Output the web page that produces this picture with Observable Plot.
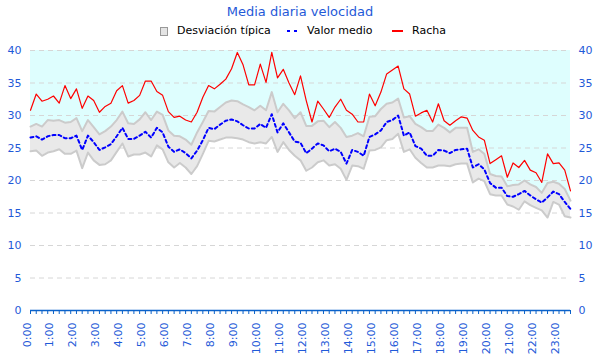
<!DOCTYPE html>
<html><head><meta charset="utf-8">
<script src="https://cdn.jsdelivr.net/npm/d3@7"></script>
<script src="https://cdn.jsdelivr.net/npm/@observablehq/plot@0.6"></script>
<style>
body{margin:0;background:#fff;font-family:"DejaVu Sans",sans-serif;}
#wrap{position:relative;width:600px;height:360px;overflow:hidden;}
#title{position:absolute;top:4px;left:0;width:600px;text-align:center;font-size:13px;color:#1f5ad8;}
.lg{position:absolute;top:24px;font-size:11px;color:#000;line-height:14px;}
.sw{position:absolute;}
#chart{position:absolute;left:0;top:0;}
</style></head>
<body>
<div id="wrap">
  <div id="chart"></div>
  <div id="title">Media diaria velocidad</div>
  <div class="sw" style="left:160px;top:27px;width:6px;height:7px;background:#e4e4e4;border:1px solid #999;"></div>
  <div class="lg" style="left:177px;">Desviación típica</div>
  <div class="sw" style="left:287px;top:30px;width:3px;height:2px;background:#0000ff;"></div>
  <div class="sw" style="left:294px;top:30px;width:3px;height:2px;background:#0000ff;"></div>
  <div class="lg" style="left:307px;">Valor medio</div>
  <div class="sw" style="left:392px;top:30px;width:11px;height:2px;background:#ff0000;"></div>
  <div class="lg" style="left:412px;">Racha</div>
</div>
<script>
// 15-minute samples from 0:00 to 23:30
const racha = [30.8,33.3,32.2,32.5,33.0,31.9,34.6,32.6,34.1,31.1,33.0,32.3,30.5,31.4,31.9,33.8,34.6,31.9,32.3,33.1,35.3,35.3,33.7,33.1,30.6,29.7,29.9,29.3,29.0,30.5,32.8,34.6,34.1,34.8,35.6,37.2,39.7,37.8,34.7,34.7,37.9,35.1,39.7,35.8,37.1,35.0,33.2,36.1,32.3,29.0,32.2,31.0,29.7,31.3,32.5,30.8,30.2,29.0,29.0,33.3,31.5,33.6,36.4,37.0,37.6,34.1,33.3,29.9,30.4,30.8,29.0,31.8,29.2,28.5,29.2,29.8,29.6,27.7,26.7,26.2,22.6,23.2,23.8,20.5,22.7,22.0,23.1,21.6,21.2,19.7,24.1,22.6,22.7,21.6,18.4];
const media = [26.6,26.8,26.3,26.8,27.0,27.0,26.5,26.5,26.9,24.7,26.9,25.9,24.7,25.1,25.6,26.8,28.1,26.4,26.4,26.9,27.5,26.6,28.1,27.4,25.2,24.4,24.8,24.2,23.4,24.6,26.2,28.1,27.9,28.6,29.2,29.4,29.1,28.5,28.0,28.0,28.7,28.1,30.2,27.4,28.8,27.4,26.0,25.8,24.2,24.9,25.7,25.4,24.5,24.9,24.4,22.6,24.7,24.4,23.8,26.7,27.1,27.7,29.0,29.3,30.0,26.9,27.4,25.3,24.9,23.8,23.8,24.7,24.6,24.2,24.7,24.8,24.9,22.0,22.5,21.7,19.6,18.9,18.9,17.6,17.5,17.9,18.4,17.7,17.1,16.6,17.4,18.3,17.9,16.7,15.6];
const superior = [28.3,28.7,28.3,29.3,29.2,29.3,28.9,29.0,29.6,27.6,29.3,28.2,27.1,27.6,28.3,29.3,30.6,28.8,28.7,29.4,30.5,29.3,30.6,30.1,27.7,26.9,26.8,26.3,25.5,27.4,29.0,30.7,30.6,31.3,32.0,32.3,32.2,31.7,31.3,30.8,31.5,30.8,33.6,30.5,31.8,30.8,29.6,30.5,28.4,28.4,29.1,29.2,28.2,29.0,28.1,26.7,26.9,27.3,26.8,29.8,29.9,31.0,31.8,32.0,32.6,29.7,29.9,28.7,28.2,27.6,27.6,28.6,28.1,27.4,28.1,28.1,28.1,24.4,24.8,24.1,21.0,20.7,20.6,19.1,19.3,19.4,20.0,19.4,19.0,18.1,19.6,19.8,19.5,18.7,16.9];
const inferior = [24.5,24.6,23.8,24.3,24.5,24.8,24.1,24.1,24.6,21.9,24.3,23.1,22.4,22.5,23.1,24.4,25.7,23.7,24.0,24.0,24.3,23.7,25.4,24.8,22.8,22.0,22.7,22.0,21.0,22.2,24.1,26.1,26.0,26.3,26.6,26.6,26.5,26.3,25.9,25.7,25.9,25.7,26.7,24.4,25.9,24.7,23.8,23.1,21.5,22.0,22.8,23.1,22.3,22.5,21.8,20.1,22.3,22.2,21.8,24.6,24.7,25.1,26.2,26.4,27.2,24.4,24.8,23.5,22.7,22.0,22.0,22.3,22.3,22.2,22.5,22.6,22.6,19.7,20.3,19.9,17.9,17.7,17.7,16.3,16.0,15.5,16.8,16.2,15.8,15.4,14.3,16.7,16.3,14.5,14.3];
const horas = d3.range(0, 24);                 // hour tick values
const horaLabels = horas.map(h => `${h}:00`);  // hour tick labels
const yTicks = [0,5,10,15,20,25,30,35,40];

const rows = racha.map((r, i) => ({h: i * 0.25, racha: r, media: media[i], sup: superior[i], inf: inferior[i]}));
const minor = d3.range(0, 95).map(i => i * 0.25);
const blue = "#1f5ad8";
const axisBlue = "#0b62c9";

const chart = Plot.plot({
  width: 600, height: 360,
  marginTop: 50, marginBottom: 50, marginLeft: 30, marginRight: 30,
  x: {domain: [0, 23.5], axis: null},
  y: {domain: [0, 40], axis: null},
  style: {fontFamily: "DejaVu Sans", fontSize: "11px", background: "transparent"},
  marks: [
    Plot.areaY(rows, {x: "h", y1: "sup", y2: 40, fill: "#defefe"}),
    Plot.ruleY(yTicks.filter(v => v > 0), {stroke: "#d6d6d6", strokeDasharray: "5,4"}),
    Plot.areaY(rows, {x: "h", y1: "inf", y2: "sup", fill: "#e9e9e9"}),
    Plot.lineY(rows, {x: "h", y: "sup", stroke: "#cbcbcb", strokeWidth: 2}),
    Plot.lineY(rows, {x: "h", y: "inf", stroke: "#cbcbcb", strokeWidth: 2}),
    Plot.lineY(rows, {x: "h", y: "racha", stroke: "#ff0000", strokeWidth: 1.2}),
    Plot.lineY(rows, {x: "h", y: "media", stroke: "#0000ff", strokeWidth: 2, strokeDasharray: "3,3"}),
    Plot.ruleY([0], {stroke: axisBlue, strokeWidth: 1.5}),
    Plot.axisX({ticks: minor, tickSize: 4, tickFormat: () => "", color: axisBlue, anchor: "bottom", label: null}),
    Plot.text(horas, {x: d => d, frameAnchor: "bottom", dy: 12, rotate: -90, textAnchor: "end",
      text: (d, i) => horaLabels[i], fill: blue, fontSize: 11}),
    Plot.axisY({anchor: "left", ticks: yTicks, tickSize: 0, tickPadding: 9, color: blue, fontSize: 11, label: null}),
    Plot.axisY({anchor: "right", ticks: yTicks, tickSize: 0, tickPadding: 8, color: blue, fontSize: 11, label: null})
  ]
});
document.getElementById("chart").appendChild(chart);
</script>
</body></html>
